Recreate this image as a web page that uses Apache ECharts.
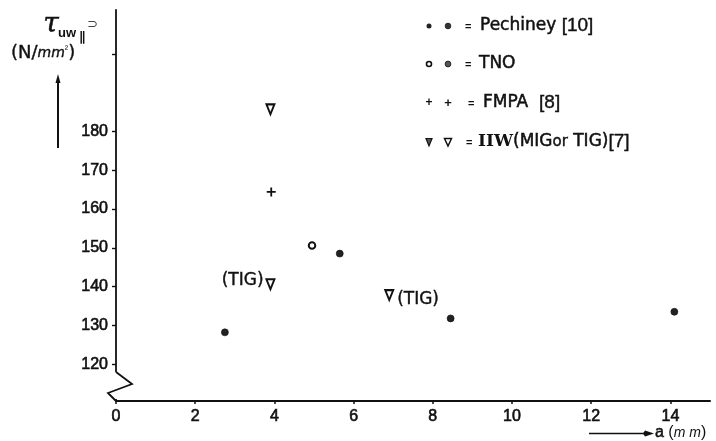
<!DOCTYPE html>
<html>
<head>
<meta charset="utf-8">
<script src="https://cdn.jsdelivr.net/npm/echarts@6/dist/echarts.min.js"></script>
<style>
  html, body { margin: 0; padding: 0; background: #fff; }
  #chart { width: 716px; height: 441px; }
</style>
</head>
<body>
<div id="chart"></div>
<script>
// Weld shear strength tau_uw|| versus throat thickness a
const pechineyA   = [2.75, 5.65, 8.45, 14.1];
const pechineyTau = [128.2, 148.5, 131.8, 133.5];

const tnoA   = [4.95];
const tnoTau = [150.6];

const fmpaA   = [3.92];
const fmpaTau = [164.4];

const iiwA    = [3.9, 3.9, 6.9];
const iiwTau  = [185.7, 140.6, 137.8];
const iiwNote = ['', '(TIG)', '(TIG)'];

const xTickValues  = [0, 2, 4, 6, 8, 10, 12, 14];
const yLabelValues = [120, 130, 140, 150, 160, 170, 180];
const yTickValues  = [120, 130, 140, 150, 160, 170, 180, 200];

const X_MIN = 0, X_MAX = 15;
const Y_MIN = 110.5, Y_MAX = 211.3;

const INK = '#111';
const SANS = '"Liberation Sans", Arial, sans-serif';
const WIDE = '"DejaVu Sans", sans-serif';

const pairs = (xs, ys) => xs.map((x, i) => [x, ys[i]]);

const plusPath = 'path://M4,0 L6,0 L6,4 L10,4 L10,6 L6,6 L6,10 L4,10 L4,6 L0,6 L0,4 L4,4 Z';

// slightly heavier strokes for printed-looking lettering
const inkText = { stroke: INK, lineWidth: 0.5 };

const chart = echarts.init(document.getElementById('chart'), null, { renderer: 'canvas' });

const axisLabelStyle = {
  color: INK, fontSize: 16, fontFamily: SANS, margin: 8,
  textBorderColor: INK, textBorderWidth: 0.6
};

const option = {
  animation: false,
  backgroundColor: '#fff',
  grid: { left: 116, right: 6, top: 10, bottom: 40, containLabel: false },
  xAxis: {
    type: 'value',
    min: X_MIN, max: X_MAX,
    splitLine: { show: false },
    axisLine: { onZero: false, lineStyle: { color: INK, width: 2 } },
    axisTick: { show: true, length: 3, lineStyle: { color: INK, width: 1.5 }, customValues: xTickValues },
    axisLabel: Object.assign({ customValues: xTickValues }, axisLabelStyle)
  },
  yAxis: {
    type: 'value',
    min: Y_MIN, max: Y_MAX,
    splitLine: { show: false },
    axisLine: { onZero: false, lineStyle: { color: INK, width: 1.8 } },
    axisTick: { show: true, length: 4, lineStyle: { color: INK, width: 1.4 }, customValues: yTickValues },
    axisLabel: Object.assign({ customValues: yLabelValues }, axisLabelStyle)
  },
  series: [
    {
      name: 'Pechiney',
      type: 'scatter',
      symbol: 'circle',
      symbolSize: 7,
      itemStyle: { color: '#222', borderColor: '#111', borderWidth: 0.6, opacity: 1 },
      data: pairs(pechineyA, pechineyTau)
    },
    {
      name: 'TNO',
      type: 'scatter',
      symbol: 'circle',
      symbolSize: 6.5,
      itemStyle: { color: '#fff', borderColor: INK, borderWidth: 2, opacity: 1 },
      data: pairs(tnoA, tnoTau)
    },
    {
      name: 'FMPA',
      type: 'scatter',
      symbol: plusPath,
      symbolSize: 9,
      itemStyle: { color: INK, opacity: 1 },
      data: pairs(fmpaA, fmpaTau)
    },
    {
      name: 'IIW',
      type: 'scatter',
      symbol: 'triangle',
      symbolRotate: 180,
      symbolSize: [8, 10],
      itemStyle: { color: '#fff', borderColor: INK, borderWidth: 2, opacity: 1 },
      data: iiwA.map((a, i) => {
        const d = { value: [a, iiwTau[i]] };
        if (iiwNote[i]) {
          const leftSide = i === 1;
          d.label = {
            show: true,
            formatter: iiwNote[i],
            position: leftSide ? 'left' : 'right',
            distance: leftSide ? 2 : 3,
            offset: leftSide ? [0, -4] : [0, 4],
            color: INK,
            textBorderColor: INK,
            textBorderWidth: 0.4,
            fontSize: 17,
            fontFamily: WIDE
          };
        }
        return d;
      })
    }
  ]
};

chart.setOption(option);

// Axis-break zigzag at the foot of the vertical axis
const corner = chart.convertToPixel({ gridIndex: 0 }, [X_MIN, Y_MIN]);
const cx = corner[0], cy = corner[1];

const legendRows = [26, 64, 103, 142];
const mk1 = 429, mk2 = 448;

const txt = (x, y, text, font, extra) => ({
  type: 'text', z: 60,
  style: Object.assign({ x, y, text, font, fill: INK, align: 'left', verticalAlign: 'middle' }, inkText, extra || {})
});

const graphics = [
  // gap in the y axis line and the break symbol
  { type: 'rect', shape: { x: cx - 4, y: cy - 29, width: 8, height: 27 }, style: { fill: '#fff' }, z: 50 },
  { type: 'polyline', shape: { points: [[cx, cy - 29], [cx + 16, cy - 17], [cx - 8, cy - 8], [cx, cy]] },
    style: { stroke: INK, lineWidth: 1.8, fill: null }, z: 51 },

  // y axis title
  txt(51, 25, 'τ', 'italic 28px "DejaVu Serif", serif', { align: 'center' }),
  txt(58, 33, 'uw', 'bold 13px ' + SANS, { lineWidth: 0 }),
  txt(79, 38, '∥', 'italic bold 13px "DejaVu Sans", sans-serif', { lineWidth: 0 }),
  txt(87, 25, '⊃', '13px "DejaVu Sans", sans-serif', { fill: '#444', lineWidth: 0 }),
  {
    type: 'text', z: 60,
    style: {
      x: 11, y: 53,
      text: '{p|(N/}{m|mm}{s|²}{p|)}',
      verticalAlign: 'middle', align: 'left',
      rich: {
        p: { font: '18px ' + WIDE, fill: INK, stroke: INK, lineWidth: 0.4 },
        m: { font: 'italic 14px ' + WIDE, fill: INK, stroke: INK, lineWidth: 0.4 },
        s: { font: '10px ' + SANS, fill: INK, verticalAlign: 'top', padding: [0, 0, 6, 0] }
      }
    }
  },
  // upward arrow beside the title
  { type: 'line', shape: { x1: 58, y1: 148, x2: 58, y2: 80 }, style: { stroke: INK, lineWidth: 2 }, z: 60 },
  { type: 'polygon', shape: { points: [[58, 74], [60.5, 83], [55.5, 83]] }, style: { fill: INK }, z: 60 },

  // x axis title with arrow
  { type: 'line', shape: { x1: 589, y1: 433.5, x2: 646, y2: 433.5 }, style: { stroke: INK, lineWidth: 1.6 }, z: 60 },
  { type: 'polygon', shape: { points: [[654, 433.5], [645, 430.5], [643, 433.5], [645, 436.5]] }, style: { fill: INK }, z: 60 },
  {
    type: 'text', z: 60,
    style: {
      x: 655, y: 433,
      text: '{a|a }{p|(}{m|m m}{p|)}',
      verticalAlign: 'middle', align: 'left',
      rich: {
        a: { font: '16px ' + SANS, fill: INK, stroke: INK, lineWidth: 0.5 },
        p: { font: '16px ' + SANS, fill: INK },
        m: { font: 'italic 14px ' + SANS, fill: INK }
      }
    }
  },

  // key: Pechiney
  { type: 'circle', shape: { cx: mk1, cy: legendRows[0], r: 2.5 }, style: { fill: '#222' }, z: 60 },
  { type: 'circle', shape: { cx: mk2, cy: legendRows[0], r: 2.9 }, style: { fill: '#333', stroke: '#111', lineWidth: 0.6 }, z: 60 },
  // key: TNO
  { type: 'circle', shape: { cx: mk1, cy: legendRows[1], r: 2.5 }, style: { fill: '#fff', stroke: INK, lineWidth: 1.6 }, z: 60 },
  { type: 'circle', shape: { cx: mk2, cy: legendRows[1], r: 2.9 }, style: { fill: '#555', stroke: '#111', lineWidth: 0.8 }, z: 60 },
  // key: FMPA
  txt(mk1, legendRows[2], '+', 'bold 12px ' + SANS, { align: 'center', lineWidth: 0 }),
  txt(mk2, legendRows[2], '+', 'bold 13px ' + SANS, { align: 'center', lineWidth: 0 }),
  // key: IIW
  { type: 'polygon', shape: { points: [[mk1 - 3, legendRows[3] - 3.5], [mk1 + 3, legendRows[3] - 3.5], [mk1, legendRows[3] + 4]] },
    style: { fill: '#555', stroke: INK, lineWidth: 1.2 }, z: 60 },
  { type: 'polygon', shape: { points: [[mk2 - 3.5, legendRows[3] - 3.5], [mk2 + 3.5, legendRows[3] - 3.5], [mk2, legendRows[3] + 4]] },
    style: { fill: '#fff', stroke: INK, lineWidth: 1.5 }, z: 60 },

  // key texts
  txt(465, legendRows[0] + 1, '=', 'bold 11px ' + SANS, { lineWidth: 0 }),
  {
    type: 'text', z: 60,
    style: {
      x: 480, y: legendRows[0], verticalAlign: 'middle', align: 'left',
      text: '{t|Pechiney }{b|[10]}',
      rich: {
        t: { font: '17px ' + WIDE, fill: INK, stroke: INK, lineWidth: 0.5 },
        b: { font: '19px ' + SANS, fill: INK, stroke: INK, lineWidth: 0.4 }
      }
    }
  },
  txt(465, legendRows[1] + 1, '=', 'bold 11px ' + SANS, { lineWidth: 0 }),
  txt(479, legendRows[1], 'TNO', '17px ' + WIDE),
  txt(468, legendRows[2] + 1, '=', 'bold 11px ' + SANS, { lineWidth: 0 }),
  {
    type: 'text', z: 60,
    style: {
      x: 483, y: legendRows[2], verticalAlign: 'middle', align: 'left',
      text: '{t|FMPA  }{b|[8]}',
      rich: {
        t: { font: '17px ' + WIDE, fill: INK, stroke: INK, lineWidth: 0.5 },
        b: { font: '19px ' + SANS, fill: INK, stroke: INK, lineWidth: 0.4 }
      }
    }
  },
  txt(466, legendRows[3] + 1, '=', 'bold 11px ' + SANS, { lineWidth: 0 }),
  {
    type: 'text', z: 60,
    style: {
      x: 478, y: legendRows[3], verticalAlign: 'middle', align: 'left',
      text: '{s|IIW}{t|(MIG}{o|or}{t| TIG)}{b|[7]}',
      rich: {
        s: { font: 'bold 17px "DejaVu Serif", serif', fill: INK },
        t: { font: '17px ' + WIDE, fill: INK, stroke: INK, lineWidth: 0.5 },
        o: { font: '15px ' + WIDE, fill: INK, stroke: INK, lineWidth: 0.4 },
        b: { font: '19px ' + SANS, fill: INK, stroke: INK, lineWidth: 0.4 }
      }
    }
  }
];

chart.setOption({ graphic: graphics });
</script>
</body>
</html>
